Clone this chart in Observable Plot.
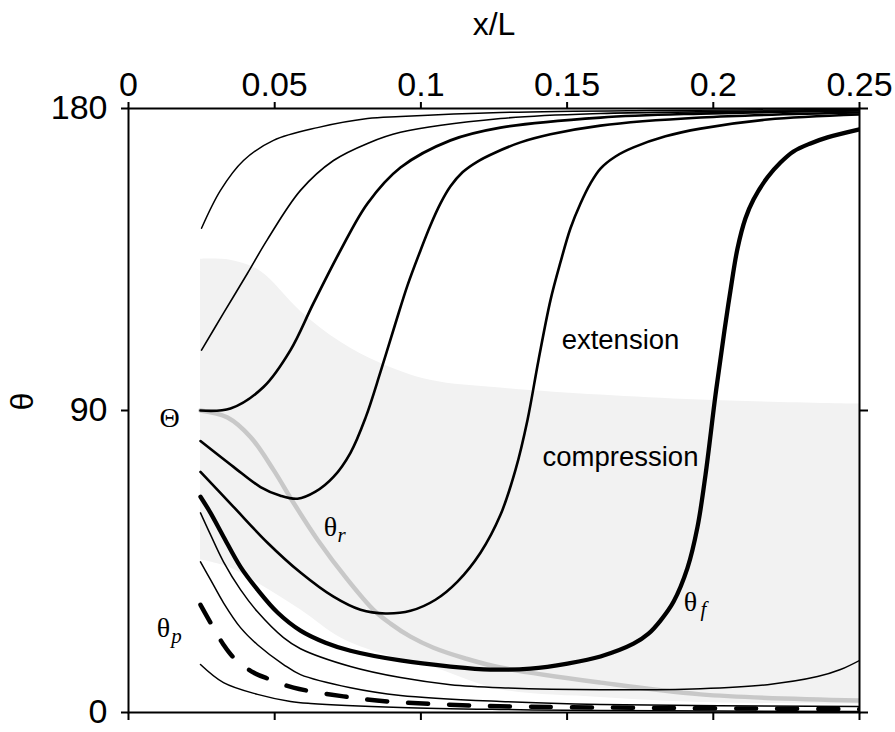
<!DOCTYPE html>
<html>
<head>
<meta charset="utf-8">
<script src="https://cdn.jsdelivr.net/npm/d3@7"></script>
<script src="https://cdn.jsdelivr.net/npm/@observablehq/plot@0.6"></script>
<style>
  html, body { margin: 0; padding: 0; background: #fff; }
</style>
</head>
<body>
<div id="chart"></div>
<script>
// Axis ticks
const xTicks = [0, 0.05, 0.1, 0.15, 0.2, 0.25];
const xTickLabels = ["0", "0.05", "0.1", "0.15", "0.2", "0.25"];
const yTicks = [0, 90, 180];

// Shaded compression band: [x/L, lower θ, upper θ]
const band = [
  [0.02462, 45.5, 135.1], [0.03488, 43.1, 134.8], [0.04514, 38.1, 131.5],
  [0.05882, 30.6, 119.6], [0.0725, 22.3, 110.4], [0.08618, 17.6, 104.1],
  [0.10328, 13.7, 99.0], [0.12722, 6.8, 96.7], [0.16142, 4.5, 94.6],
  [0.19562, 3.0, 93.1], [0.25, 2.4, 91.9]
];

// θ_r (grey)
const thetaR = [
  [0.02462, 90], [0.03386, 87.9], [0.04172, 82.1], [0.04959, 72.3], [0.05643, 62.5],
  [0.06464, 51.5], [0.0749, 39.6], [0.08379, 30.6], [0.0896, 26.5], [0.09644, 22.6],
  [0.10431, 19.3], [0.11525, 16.1], [0.12722, 13.4], [0.16142, 8.9], [0.19562, 5.4], [0.25, 3.6]
];

// Orientation trajectories θ(x/L) for different initial angles
const c1 = [
  [0.02497, 144.3], [0.03146, 155.6], [0.03933, 164.5], [0.04959, 170.5], [0.06464, 174.3],
  [0.08174, 177.0], [0.09302, 177.6], [0.12722, 178.8], [0.17852, 179.4], [0.25, 179.7]
];
const c2 = [
  [0.02497, 108.0], [0.03249, 119.0], [0.0407, 130.9], [0.04754, 141.0], [0.05882, 155.6],
  [0.07011, 164.5], [0.08174, 169.6], [0.09302, 172.9], [0.12722, 177.0], [0.16142, 178.5], [0.25, 179.4]
];
const c3 = [
  [0.02462, 90.0], [0.03488, 90.6], [0.04617, 97.0], [0.0554, 108.0], [0.06327, 122.0],
  [0.0725, 137.7], [0.08174, 151.7], [0.09302, 162.4], [0.11012, 170.5], [0.12722, 174.3],
  [0.16142, 177.3], [0.19562, 178.5], [0.25, 179.4]
];
const c4 = [
  [0.02462, 80.9], [0.03591, 73.2], [0.04514, 67.2], [0.05198, 64.6], [0.0578, 63.7],
  [0.06395, 65.8], [0.07011, 70.2], [0.07592, 77.4], [0.08105, 87.8], [0.08618, 101.5],
  [0.09131, 116.0], [0.09542, 127.3], [0.09986, 137.7], [0.10328, 145.2], [0.1067, 151.7],
  [0.11012, 156.8], [0.11423, 161.0], [0.11936, 164.2], [0.12551, 166.9], [0.13406, 169.9],
  [0.14432, 172.3], [0.16142, 174.9], [0.19562, 177.3], [0.25, 178.8]
];
const c5 = [
  [0.02462, 71.7], [0.03591, 61.3], [0.04754, 50.6], [0.05882, 41.7], [0.07011, 34.5],
  [0.07934, 30.6], [0.08789, 29.5], [0.09644, 30.3], [0.10499, 33.6], [0.11252, 39.0],
  [0.12038, 47.6], [0.12722, 58.9], [0.13235, 72.3], [0.13646, 87.2], [0.14022, 105.0],
  [0.14432, 122.9], [0.14774, 134.2], [0.15116, 144.3], [0.15458, 151.7], [0.158, 157.7],
  [0.16142, 162.1], [0.16655, 165.7], [0.17271, 168.4], [0.18365, 171.7], [0.19562, 174.0],
  [0.21854, 176.7], [0.25, 178.2]
];
// θ_f (heavy)
const thetaF = [
  [0.02462, 64.3], [0.02804, 59.5], [0.03249, 52.4], [0.0383, 43.4], [0.04412, 36.6],
  [0.05096, 29.8], [0.05882, 24.4], [0.06737, 20.8], [0.07592, 18.4], [0.09302, 15.5],
  [0.11012, 13.7], [0.1238, 12.8], [0.13748, 13.1], [0.15014, 14.6], [0.16142, 16.7],
  [0.17271, 20.5], [0.17784, 23.5], [0.18194, 27.4], [0.18639, 33.0], [0.19118, 43.1],
  [0.1946, 55.3], [0.19733, 70.8], [0.20075, 94.6], [0.20383, 113.9], [0.20588, 125.8],
  [0.20828, 138.3], [0.21101, 147.3], [0.21375, 152.9], [0.21854, 159.5], [0.22298, 163.9],
  [0.22743, 167.2], [0.23324, 169.6], [0.23906, 171.4], [0.25, 173.8]
];
const c7 = [
  [0.02462, 59.5], [0.02804, 53.0], [0.03249, 44.9], [0.0383, 36.6], [0.04412, 30.0],
  [0.05301, 22.3], [0.05882, 19.0], [0.07592, 13.7], [0.09302, 10.4], [0.11012, 8.3],
  [0.12722, 7.4], [0.16142, 6.8], [0.19562, 7.1], [0.21854, 8.3], [0.23564, 10.7],
  [0.2435, 12.8], [0.25, 15.5]
];
const c8 = [
  [0.02462, 44.9], [0.02804, 39.6], [0.03249, 32.7], [0.0383, 25.3], [0.04412, 20.2],
  [0.05301, 14.3], [0.05882, 11.3], [0.07592, 7.4], [0.09302, 5.1], [0.12722, 3.3],
  [0.16142, 2.4], [0.25, 1.8]
];
const c9 = [
  [0.02462, 14.3], [0.03249, 8.9], [0.04412, 5.4], [0.0554, 3.3], [0.06224, 2.7],
  [0.09302, 1.5], [0.12722, 0.9], [0.16142, 0.6], [0.25, 0.3]
];
// θ_p (dashed)
const thetaP = [
  [0.02462, 32.1], [0.02804, 26.8], [0.03249, 20.2], [0.03591, 16.4], [0.04275, 11.9],
  [0.04856, 9.8], [0.05643, 7.4], [0.07353, 4.8], [0.08858, 3.3], [0.11696, 2.1],
  [0.16142, 1.5], [0.25, 1.0]
];

// In-plot annotations
const symbolLabels = [
  {x: 0.01402, y: 87.8, text: "Θ"},
  {x: 0.06908, y: 55.3, text: "θ"},
  {x: 0.01197, y: 25.3, text: "θ"},
  {x: 0.1922, y: 33.0, text: "θ"}
];
const subscripts = [
  {x: 0.07285, y: 52.9, text: "r"},
  {x: 0.01642, y: 22.6, text: "p"},
  {x: 0.19665, y: 30.9, text: "f"}
];
const regionLabels = [
  {x: 0.16826, y: 111.0, text: "extension"},
  {x: 0.16826, y: 76.2, text: "compression"}
];

const X = d => d[0], Y = d => d[1];
const line = (data, w, extra = {}) =>
  Plot.line(data, {x: X, y: Y, stroke: "black", strokeWidth: w, curve: "catmull-rom", clip: true, ...extra});

const chart = Plot.plot({
  width: 895,
  height: 732,
  marginLeft: 128,
  marginRight: 36,
  marginTop: 108,
  marginBottom: 20,
  x: {domain: [0, 0.25]},
  y: {domain: [0, 180]},
  style: {fontFamily: "'Liberation Sans', Arial, sans-serif", fontSize: "34px", background: "white", color: "black"},
  marks: [
    Plot.areaY(band, {x: d => d[0], y1: d => d[1], y2: d => d[2], fill: "#f2f2f2", curve: "catmull-rom"}),
    line(thetaR, 4.5, {stroke: "#c8c8c8"}),
    line(c1, 1.5),
    line(c2, 1.6),
    line(c3, 2.7),
    line(c4, 2.6),
    line(c5, 2.6),
    line(thetaF, 4.3),
    line(c7, 1.5),
    line(c8, 1.5),
    line(c9, 1.5),
    line(thetaP, 4.5, {strokeDasharray: "20,21"}),
    Plot.text(symbolLabels, {x: "x", y: "y", text: "text", fontFamily: "'Liberation Serif', 'DejaVu Serif', serif", fontSize: 28}),
    Plot.text(subscripts, {x: "x", y: "y", text: "text", fontFamily: "'Liberation Serif', 'DejaVu Serif', serif", fontStyle: "italic", fontSize: 21}),
    Plot.text(regionLabels, {x: "x", y: "y", text: "text", fontSize: 27.5}),
    Plot.frame({strokeWidth: 2}),
    Plot.axisX(xTicks, {anchor: "top", tickSize: 7, tickPadding: 6, strokeWidth: 2, label: null,
      tickFormat: d => xTickLabels[xTicks.indexOf(d)], fontSize: 34}),
    Plot.axisX(xTicks, {anchor: "bottom", tickSize: 8, strokeWidth: 2, label: null, tickFormat: () => ""}),
    Plot.axisY(yTicks, {anchor: "left", tickSize: 7, tickPadding: 14, strokeWidth: 2, label: null, fontSize: 34}),
    Plot.axisY(yTicks, {anchor: "right", tickSize: 8, strokeWidth: 2, label: null, tickFormat: () => ""}),
    Plot.text(["x/L"], {text: d => d, frameAnchor: "top", dy: -96, fontSize: 32}),
    Plot.text(["θ"], {text: d => d, frameAnchor: "left", dx: -106, rotate: -90, fontSize: 32})
  ]
});

document.getElementById("chart").appendChild(chart);
</script>
</body>
</html>
